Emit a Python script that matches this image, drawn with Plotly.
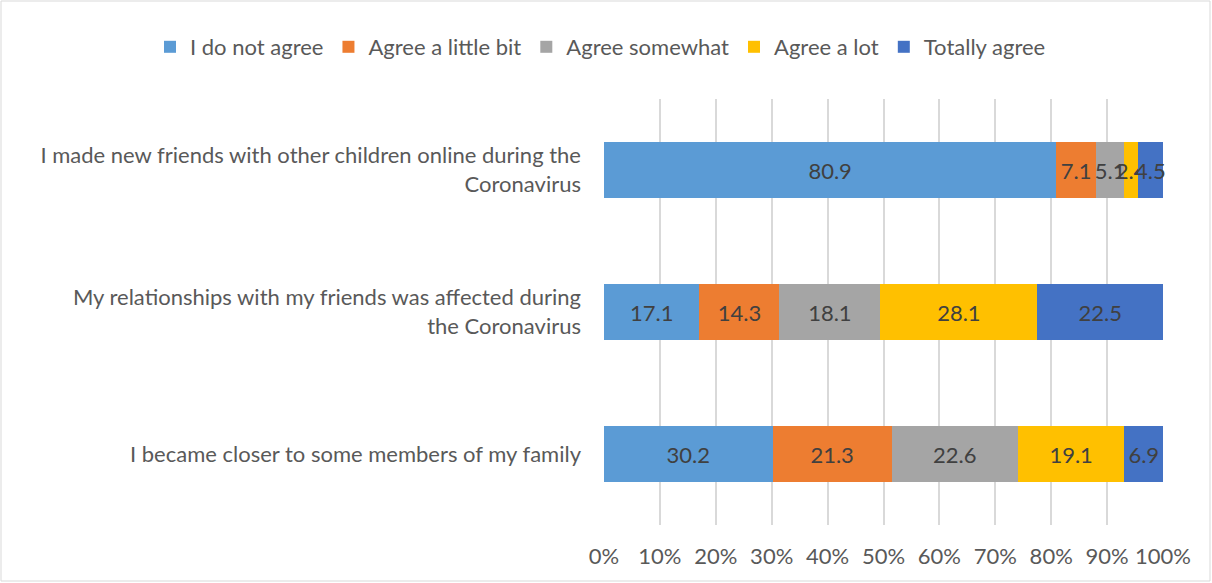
import plotly.graph_objects as go

categories = [
    "I made new friends with other children online during the<br>Coronavirus",
    "My relationships with my friends was affected during<br>the Coronavirus",
    "I became closer to some members of my family",
]
series_names = ["I do not agree", "Agree a little bit", "Agree somewhat", "Agree a lot", "Totally agree"]
not_agree = [80.9, 17.1, 30.2]
little_bit = [7.1, 14.3, 21.3]
somewhat = [5.1, 18.1, 22.6]
a_lot = [2.4, 28.1, 19.1]
totally = [4.5, 22.5, 6.9]
colors = ["#5B9BD5", "#ED7D31", "#A5A5A5", "#FFC000", "#4472C4"]
tick_vals = [0, 10, 20, 30, 40, 50, 60, 70, 80, 90, 100]
tick_text = ["0%", "10%", "20%", "30%", "40%", "50%", "60%", "70%", "80%", "90%", "100%"]

FONT = "Lato"
FS = 22
fig = go.Figure()
for name, vals, col in zip(series_names, [not_agree, little_bit, somewhat, a_lot, totally], colors):
    fig.add_trace(go.Bar(
        y=categories, x=vals, name=name, orientation="h",
        marker=dict(color=col, line=dict(width=0)),
        text=[f"{v:.1f}" for v in vals], texttemplate="%{text}",
        textposition="inside", insidetextanchor="middle",
        constraintext="none", textangle=0,
        textfont=dict(color="#404040", size=FS, family=FONT),
        cliponaxis=False,
    ))

W, H = 1212, 583
ml, mr, mt, mb = 604, 49, 99, 58
pw, ph = W - ml - mr, H - mt - mb

fig.update_layout(
    width=W, height=H,
    barmode="stack", barnorm="percent", bargap=0.6,
    margin=dict(l=ml, r=mr, t=mt, b=mb),
    paper_bgcolor="white", plot_bgcolor="white",
    font=dict(family=FONT, size=FS, color="#595959"),
    legend=dict(orientation="h", xref="paper", yref="paper",
                x=-(ml - 150) / pw, xanchor="left",
                y=1 + (mt - 47) / ph, yanchor="middle",
                font=dict(size=FS, color="#595959"), itemwidth=30,
                traceorder="normal", tracegroupgap=0),
    xaxis=dict(range=[0, 100], tickvals=tick_vals, ticktext=tick_text,
               showgrid=True, gridcolor="#D9D9D9", gridwidth=2,
               zeroline=False, showline=False, ticks="", ticklabelstandoff=16,
               tickfont=dict(size=FS, color="#595959")),
    yaxis=dict(categoryorder="array", categoryarray=categories[::-1],
               showgrid=False, zeroline=False, showline=False, ticks="",
               ticklabelstandoff=22, tickfont=dict(size=FS, color="#595959")),
    shapes=[dict(type="rect", xref="paper", yref="paper",
                 x0=-(ml - 1) / pw, x1=1 + (mr - 2) / pw,
                 y0=-(mb - 2) / ph, y1=1 + (mt - 1) / ph,
                 line=dict(color="#D9D9D9", width=1), fillcolor="rgba(0,0,0,0)")],
)
fig.write_html("out.html", config={"displayModeBar": False},
               post_script="document.body.style.margin='0px';")
